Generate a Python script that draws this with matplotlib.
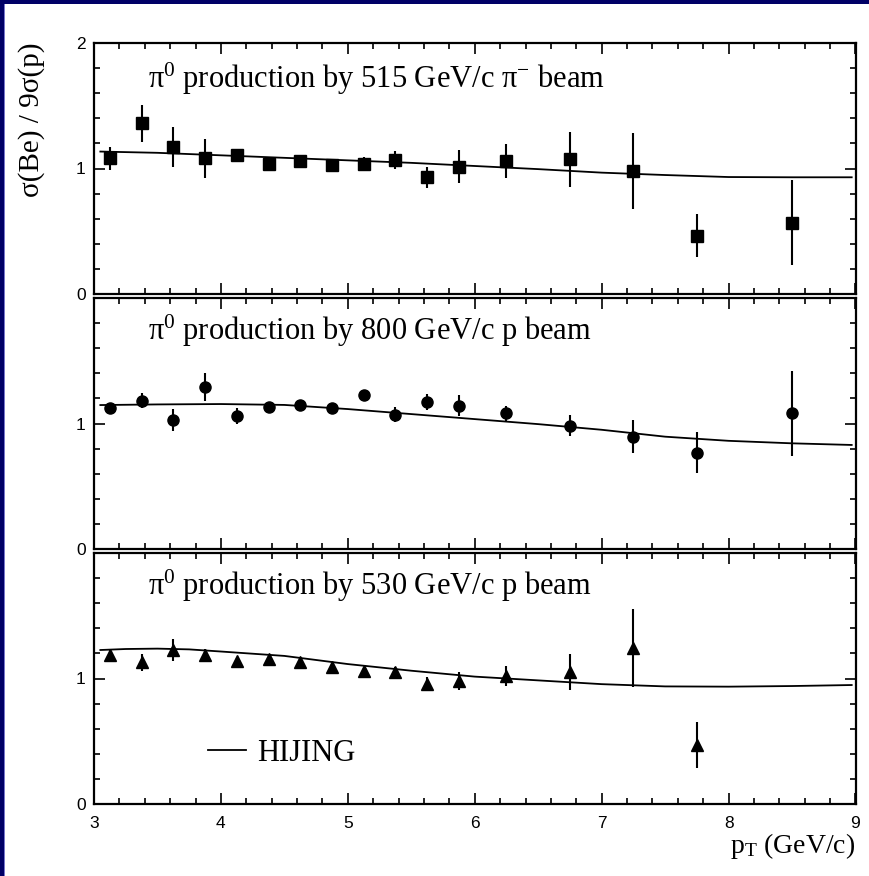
import matplotlib
matplotlib.use("Agg")
import matplotlib.pyplot as plt
from matplotlib.patches import Rectangle
from matplotlib.lines import Line2D
import numpy as np

plt.rcParams['mathtext.fontset'] = 'custom'
plt.rcParams['mathtext.rm'] = 'Liberation Serif'
plt.rcParams['mathtext.it'] = 'Liberation Serif:italic'
plt.rcParams['mathtext.default'] = 'regular'

# ---------------- data ----------------
pt = [3.125, 3.375, 3.625, 3.875, 4.125, 4.375, 4.625, 4.875, 5.125, 5.375,
      5.625, 5.875, 6.25, 6.75, 7.25, 7.75, 8.5]

# 515 GeV/c pi- beam (squares)
r515 = [1.08, 1.36, 1.17, 1.08, 1.105, 1.036, 1.06, 1.028, 1.036, 1.068,
        0.93, 1.014, 1.06, 1.073, 0.98, 0.465, 0.568]
e515 = [0.09, 0.145, 0.16, 0.155, 0.02, 0.02, 0.02, 0.02, 0.055, 0.07,
        0.085, 0.13, 0.135, 0.22, 0.305, 0.17, 0.34]

# 800 GeV/c p beam (circles)
r800 = [1.121, 1.182, 1.028, 1.293, 1.06, 1.134, 1.147, 1.121, 1.227, 1.07,
        1.171, 1.142, 1.081, 0.983, 0.895, 0.768, 1.081]
e800 = [0.03, 0.06, 0.085, 0.11, 0.067, 0.02, 0.02, 0.02, 0.04, 0.06,
        0.065, 0.085, 0.06, 0.085, 0.13, 0.165, 0.34]

# 530 GeV/c p beam (triangles)
pt530 = [3.125, 3.375, 3.625, 3.875, 4.125, 4.375, 4.625, 4.875, 5.125, 5.375,
         5.625, 5.875, 6.25, 6.75, 7.25, 7.75]
r530 = [1.187, 1.129, 1.227, 1.187, 1.142, 1.153, 1.134, 1.094, 1.062, 1.054,
        0.956, 0.98, 1.02, 1.054, 1.24, 0.47]
e530 = [0.05, 0.07, 0.085, 0.05, 0.02, 0.02, 0.02, 0.02, 0.02, 0.04,
        0.055, 0.07, 0.08, 0.145, 0.31, 0.18]

# HIJING curves
hx = [3.05, 3.5, 4.0, 4.5, 5.0, 5.5, 6.0, 6.5, 7.0, 7.5, 8.0, 8.5, 8.97]
h515 = [1.135, 1.125, 1.105, 1.085, 1.065, 1.045, 1.02, 0.995, 0.967, 0.948,
        0.932, 0.93, 0.93]
h800 = [1.147, 1.152, 1.155, 1.148, 1.115, 1.075, 1.035, 0.995, 0.95, 0.895,
        0.862, 0.842, 0.829]
hx530 = [3.05, 3.25, 3.5, 3.75, 4.0, 4.5, 5.0, 5.5, 6.0, 6.5, 7.0, 7.5, 8.0,
         8.5, 8.97]
h530 = [1.227, 1.235, 1.238, 1.232, 1.215, 1.18, 1.115, 1.062, 1.015, 0.985,
        0.955, 0.937, 0.935, 0.94, 0.948]

titles = [r"$\pi^{0}$ production by 515 GeV/c $\pi^{-}$ beam",
          r"$\pi^{0}$ production by 800 GeV/c p beam",
          r"$\pi^{0}$ production by 530 GeV/c p beam"]

# ---------------- figure ----------------
W, H = 869, 876
fig = plt.figure(figsize=(W / 100, H / 100), dpi=100)
fig.patch.set_facecolor('#000066')
fig.add_artist(Rectangle((5 / W, 0), 1, 1 - 4 / H, transform=fig.transFigure,
                         facecolor='white', edgecolor='none', zorder=-2))
fig.add_artist(Rectangle((4 / W, 0), 1.2 / W, 1 - 4 / H, transform=fig.transFigure,
                         facecolor='#7777cc', edgecolor='none', zorder=-1))

left = 94 / W
width = (855.5 - 94) / W
tops = [43, 298, 553]
ph = 251
title_y = [0.82, 0.833, 0.833]

serif = 'Liberation Serif'
sans = 'Liberation Sans'

datasets = [(pt, r515, e515, 's', 8.5, hx, h515),
            (pt, r800, e800, 'o', 8.0, hx, h800),
            (pt530, r530, e530, '^', 8.5, hx530, h530)]

axes = []
for i, (x, y, e, m, ms, cx, cy) in enumerate(datasets):
    bottom = 1 - (tops[i] + ph) / H
    ax = fig.add_axes([left, bottom, width, ph / H])
    axes.append(ax)
    ax.plot(cx, cy, color='black', lw=1.3, label='HIJING', zorder=2)
    ax.errorbar(x, y, yerr=e, fmt=m, color='black', ms=ms, elinewidth=1.5,
                capsize=0, zorder=3)
    ax.set_xlim(3, 9)
    ax.set_ylim(0, 2)
    ax.set_xticks([3, 4, 5, 6, 7, 8, 9])
    ax.set_xticks(np.arange(3, 9.01, 0.2), minor=True)
    ax.set_yticks([0, 1, 2])
    ax.set_yticks(np.arange(0, 2.01, 0.2), minor=True)
    if i == 0:
        ax.set_yticklabels(['0', '1', '2'])
    else:
        ax.set_yticklabels(['0', '1', ''])
    ax.tick_params(which='both', direction='in', top=True, right=True,
                   width=1.2, labelsize=12.5, pad=6)
    ax.tick_params(which='major', length=8)
    ax.tick_params(which='minor', length=4)
    for lab in ax.get_yticklabels() + ax.get_xticklabels():
        lab.set_fontfamily(sans)
    if i < 2:
        ax.tick_params(labelbottom=False)
    else:
        ax.tick_params(axis='x', pad=9)
    for s in ax.spines.values():
        s.set_linewidth(1.6)
    ax.text(0.071, title_y[i], titles[i], transform=ax.transAxes, fontsize=22,
            family=serif, ha='left', va='baseline')

ax3 = axes[2]
ax3.legend(handles=[Line2D([], [], color='black', lw=1.3)], labels=['HIJING'],
           loc='center left', bbox_to_anchor=(0.15, 0.203), frameon=False,
           borderpad=0, borderaxespad=0, handlelength=1.25, handletextpad=0.35,
           prop={'family': serif, 'size': 22})

fig.text(855 / W, 1 - 853 / H, r"$\mathrm{p_T}$ (GeV/c)", family=serif,
         fontsize=20, ha='right', va='baseline')
fig.text(32 / W, 1 - 120 / H, "σ(Be) / 9σ(p)", family=serif, fontsize=21,
         rotation=90, ha='center', va='center')

fig.savefig('out.png', dpi=100, facecolor=fig.get_facecolor())
